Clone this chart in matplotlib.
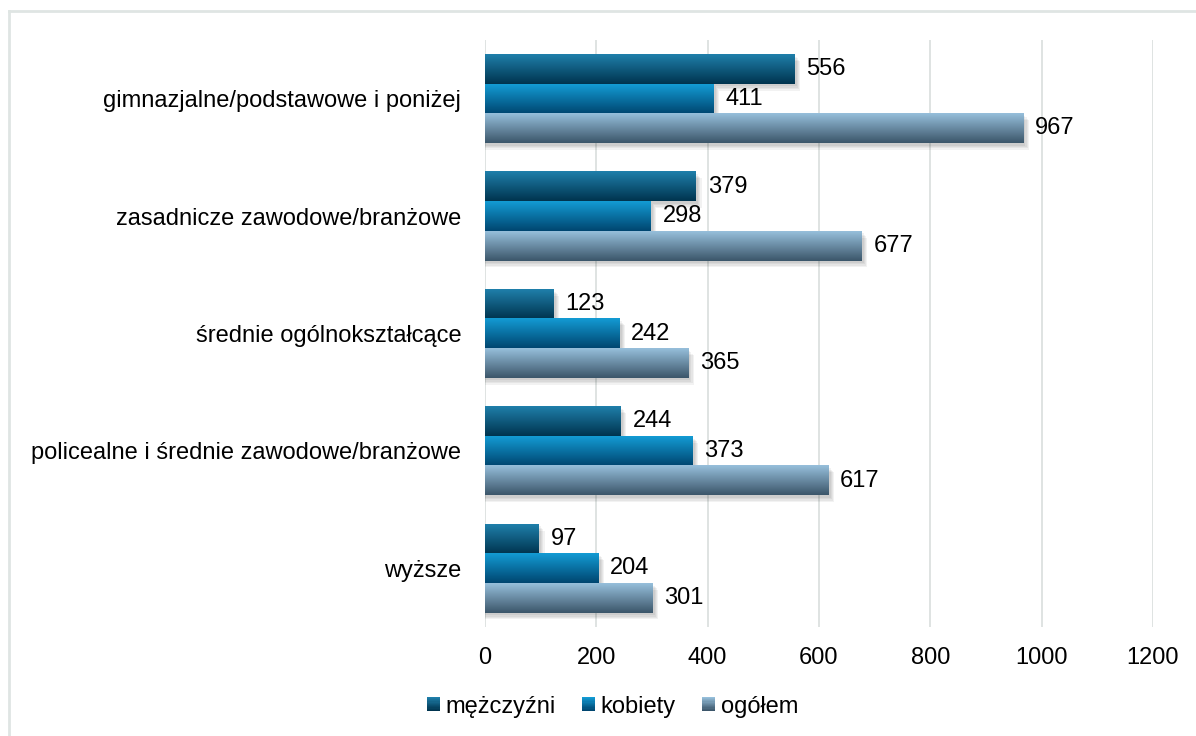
import numpy as np
import matplotlib.pyplot as plt
from matplotlib.colors import LinearSegmentedColormap
from matplotlib.lines import Line2D
from matplotlib.patches import Rectangle
from matplotlib.legend_handler import HandlerBase

plt.rcParams['font.family'] = ['Liberation Sans', 'DejaVu Sans']

categories = ['gimnazjalne/podstawowe i poniżej', 'zasadnicze zawodowe/branżowe',
              'średnie ogólnokształcące', 'policealne i średnie zawodowe/branżowe', 'wyższe']
series = ['mężczyźni', 'kobiety', 'ogółem']
men = [556, 379, 123, 244, 97]
women = [411, 298, 242, 373, 204]
total = [967, 677, 365, 617, 301]

# top colour, bottom colour of each bar gradient
grad = [('#1f7faa', '#00344f'), ('#139bd4', '#004670'), ('#96bfdb', '#3c566a')]
cmaps = [LinearSegmentedColormap.from_list('g%d' % i, [t, b]) for i, (t, b) in enumerate(grad)]


class GradHandler(HandlerBase):
    def __init__(self, cmap):
        super().__init__()
        self.cmap = cmap

    def create_artists(self, legend, orig, xd, yd, width, height, fontsize, trans):
        n = 12
        arts = []
        for i in range(n):
            arts.append(Rectangle((-xd, -yd + height * (n - 1 - i) / n), width, height / n + 0.3,
                                  facecolor=self.cmap(i / (n - 1)), edgecolor='none',
                                  transform=trans))
        return arts


fig = plt.figure(figsize=(11.96, 7.36), dpi=100)
ax = fig.add_axes([0.4055, 0.148, 0.5585, 0.7975])

y = np.arange(len(categories))
h = 0.252
offs = [-h, 0, h]
vals = [men, women, total]
gradimg = np.linspace(0, 1, 64).reshape(-1, 1)

for k, (v, off) in enumerate(zip(vals, offs)):
    bars = ax.barh(y + off, v, height=h, color='none', edgecolor='none', zorder=3)
    for b, val in zip(bars, v):
        x0, y0, w, bh = b.get_x(), b.get_y(), b.get_width(), b.get_height()
        # soft shadow
        for s in range(4):
            ax.add_patch(Rectangle((x0, y0 + 0.02 + s * 0.012), w + 4 + s * 2, bh,
                                   facecolor='black', alpha=0.05, edgecolor='none', zorder=2))
        ax.imshow(gradimg, cmap=cmaps[k], extent=[x0, x0 + w, y0 + bh, y0],
                  aspect='auto', zorder=3, interpolation='bilinear')
        ax.text(val + 21, b.get_y() + bh / 2, str(val), va='center', ha='left',
                fontsize=17, color='black', zorder=4)

ax.set_xlim(0, 1200)
ax.set_ylim(len(categories) - 0.5, -0.5)
ax.set_xticks(np.arange(0, 1201, 200))
ax.set_yticks(y)
ax.set_yticklabels(categories)
ax.tick_params(axis='both', length=0, labelsize=17)
ax.tick_params(axis='x', pad=14)
ax.tick_params(axis='y', pad=17)
ax.grid(axis='x', color='#d9dedd', linewidth=1.2, zorder=0)
ax.set_axisbelow(True)
for sp in ax.spines.values():
    sp.set_visible(False)

handles = [Rectangle((0, 0), 1, 1, facecolor=g[1]) for g in grad]
fig.legend(handles, series, loc='center', bbox_to_anchor=(0.512, 0.04), ncol=3,
           frameon=False, fontsize=17, handlelength=0.55, handleheight=0.55,
           handletextpad=0.25, columnspacing=1.1,
           handler_map={hd: GradHandler(cm) for hd, cm in zip(handles, cmaps)})

# outer frame
fig.add_artist(Line2D([8.5 / 1196, 8.5 / 1196], [0, 1 - 10.5 / 736], color='#dfe5e3', lw=2,
                      transform=fig.transFigure))
fig.add_artist(Line2D([8.5 / 1196, 1], [1 - 10.5 / 736, 1 - 10.5 / 736], color='#dfe5e3', lw=2,
                      transform=fig.transFigure))

fig.savefig('out.png', dpi=100)
